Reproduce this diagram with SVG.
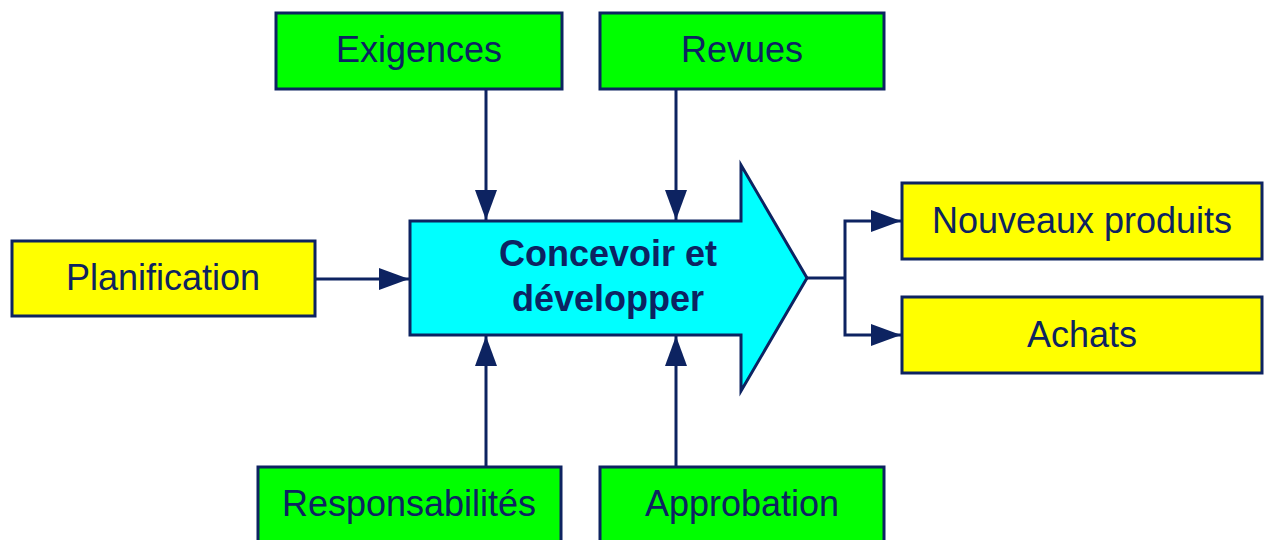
<svg xmlns="http://www.w3.org/2000/svg" width="1266" height="540" viewBox="0 0 1266 540">
<style>
.box{stroke:#0d2361;stroke-width:3}
.g{fill:#00ff00}
.y{fill:#ffff00}
.t{font-family:"Liberation Sans",Arial,sans-serif;font-size:36px;fill:#0d2361;text-anchor:middle}
.tb{font-family:"Liberation Sans",Arial,sans-serif;font-size:36px;font-weight:bold;fill:#0d2361;text-anchor:middle}
.c{stroke:#0d2361;stroke-width:3;fill:none}
</style>
<defs>
<marker id="ah" viewBox="0 0 30 22" refX="30" refY="11" markerWidth="30" markerHeight="22" markerUnits="userSpaceOnUse" orient="auto">
<path d="M0,0 L30,11 L0,22 Z" fill="#0d2361"/>
</marker>
</defs>
<rect width="1266" height="540" fill="#ffffff"/>
<g id="main">
<path d="M410,221 L741,221 L741,165 L807,278 L741,391 L741,335 L410,335 Z" fill="#00ffff" stroke="#0d2361" stroke-width="3" stroke-linejoin="miter"/>
<text class="tb" x="608" y="266">Concevoir et</text>
<text class="tb" x="608" y="311">développer</text>
</g>
<g id="exigences"><rect class="box g" x="276" y="13" width="286" height="76"/><text class="t" x="419" y="62">Exigences</text></g>
<g id="revues"><rect class="box g" x="600" y="13" width="284" height="76"/><text class="t" x="742" y="62">Revues</text></g>
<g id="planification"><rect class="box y" x="12" y="241" width="303" height="75"/><text class="t" x="163" y="290">Planification</text></g>
<g id="nouveaux"><rect class="box y" x="902" y="183" width="360" height="76"/><text class="t" x="1082" y="233">Nouveaux produits</text></g>
<g id="achats"><rect class="box y" x="902" y="297" width="360" height="76"/><text class="t" x="1082" y="347">Achats</text></g>
<g id="responsabilites"><rect class="box g" x="258" y="467" width="303" height="90"/><text class="t" x="409" y="516">Responsabilités</text></g>
<g id="approbation"><rect class="box g" x="600" y="467" width="284" height="90"/><text class="t" x="742" y="516">Approbation</text></g>
<g id="connectors">
<line class="c" x1="486" y1="89" x2="486" y2="220" marker-end="url(#ah)"/>
<line class="c" x1="676" y1="89" x2="676" y2="220" marker-end="url(#ah)"/>
<line class="c" x1="315" y1="279" x2="409" y2="279" marker-end="url(#ah)"/>
<line class="c" x1="486" y1="467" x2="486" y2="336" marker-end="url(#ah)"/>
<line class="c" x1="676" y1="467" x2="676" y2="336" marker-end="url(#ah)"/>
<line class="c" x1="807" y1="278" x2="845" y2="278"/>
<polyline class="c" points="845,278 845,221 901,221" marker-end="url(#ah)"/>
<polyline class="c" points="845,278 845,335 901,335" marker-end="url(#ah)"/>
</g>
</svg>
